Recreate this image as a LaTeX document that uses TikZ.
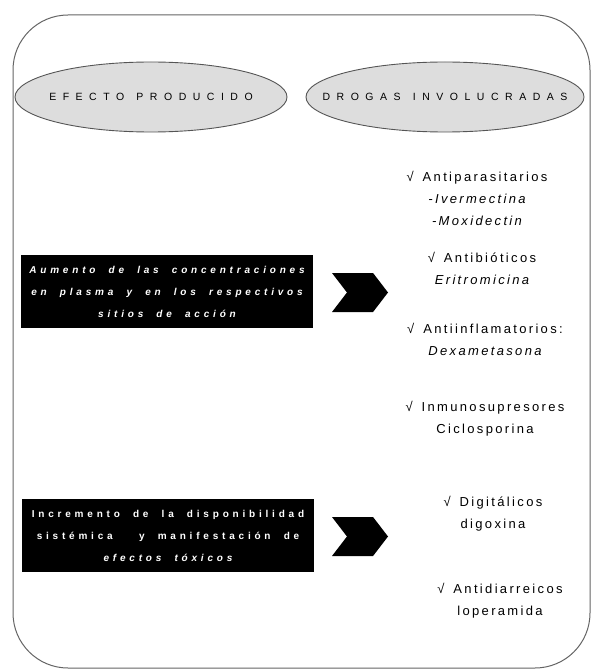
\documentclass[tikz,border=0pt]{standalone}
\usepackage{fontspec}
\setmainfont{Liberation Sans}
\newfontfamily\headfont[LetterSpace=62,WordSpace=1.3]{Liberation Sans}
\newfontfamily\boxfont[LetterSpace=38,WordSpace=2]{Liberation Sans}
\newfontfamily\drugfont[LetterSpace=18,WordSpace=1.5]{Liberation Sans}
\usetikzlibrary{shapes.geometric}
\usetikzlibrary{shapes.symbols}

\definecolor{ovalfill}{RGB}{221,221,221}
\definecolor{ovalline}{RGB}{85,85,85}
\definecolor{frameline}{RGB}{100,100,100}
% text that does not widen the oval
\newcommand{\ovaltext}[1]{\makebox[0pt][c]{#1}}

\begin{document}
\begin{tikzpicture}[x=1pt,y=-1pt,
header/.style={ellipse,draw=ovalline,fill=ovalfill,line width=0.9pt,
  minimum height=70,inner sep=0pt,font=\headfont\fontsize{10.5}{12}\selectfont},
effectbox/.style={rectangle,fill=black,text=white,align=center,
  minimum width=292,minimum height=73,inner sep=0pt,
  font=\boxfont\bfseries\fontsize{10}{22}\selectfont},
chevron/.style={signal,signal to=east,signal from=west,fill=black,
  signal pointer angle=105,minimum width=56,minimum height=39,inner sep=0pt},
drug/.style={align=center,inner sep=0pt,font=\drugfont\fontsize{13}{22}\selectfont}
]
\useasboundingbox (0,0) rectangle (592,671);
% frame
\draw[frameline,line width=1pt,rounded corners=55] (13,15) rectangle (590,668);
% column headers
\node[header,minimum width=272] (efecto) at (151,97) {\ovaltext{EFECTO PRODUCIDO}};
\node[header,minimum width=278] (drogas) at (445,97) {\ovaltext{DROGAS INVOLUCRADAS}};
% effects
\node[effectbox] (aumento) at (167,291.5)
  {\itshape Aumento de las concentraciones\\ \itshape en plasma y en los respectivos\\ \itshape sitios de acción};
\node[effectbox] (incremento) at (168,535.5)
  {Incremento de la disponibilidad\\ sistémica \ y manifestación de\\ \itshape efectos tóxicos};
\node[chevron] (chev1) at (360,292.5) {};
\node[chevron] (chev2) at (360,536.5) {};
% drugs
\node[drug] (antipar) at (477,198) {√ Antiparasitarios\\ \itshape -Ivermectina\\ \itshape -Moxidectin};
\node[drug] (antibio) at (482,268) {√ Antibióticos\\ \itshape Eritromicina};
\node[drug] (antiinf) at (485,339) {√ Antiinflamatorios:\\ \itshape Dexametasona};
\node[drug] (inmuno) at (485,419) {√ Inmunosupresores\\ Ciclosporina};
\node[drug] (digital) at (493,514) {√ Digitálicos\\ digoxina};
\node[drug] (antidia) at (500,601) {√ Antidiarreicos\\ loperamida};
\end{tikzpicture}
\end{document}
